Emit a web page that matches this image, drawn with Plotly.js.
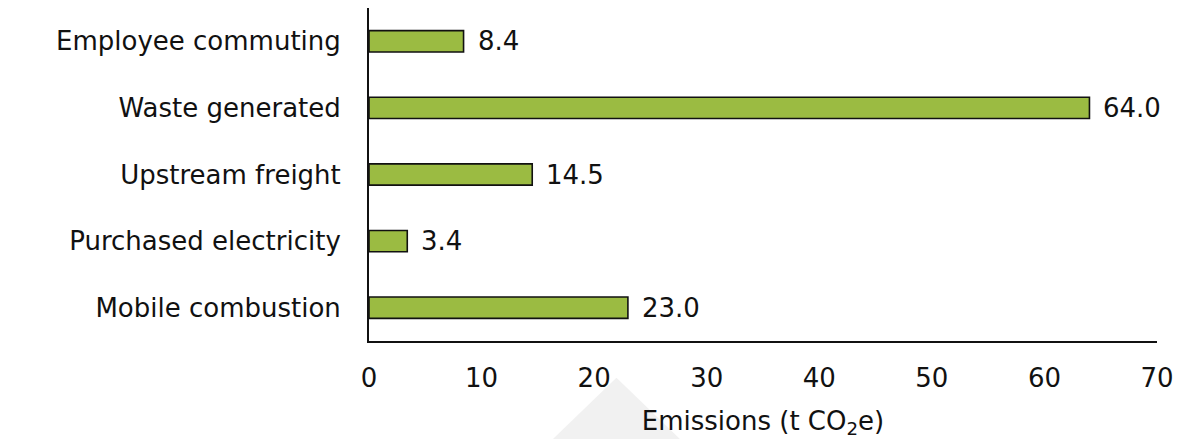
<!DOCTYPE html>
<html>
<head>
<meta charset="utf-8">
<script src="https://cdn.plot.ly/plotly-3.0.1.min.js"></script>
<style>html,body{margin:0;padding:0;background:#fff;}#chart{width:1183px;height:439px;}</style>
</head>
<body>
<div id="chart"></div>
<script>
const categories = ["Mobile combustion", "Purchased electricity", "Upstream freight", "Waste generated", "Employee commuting"];
const emissions = [23.0, 3.4, 14.5, 64.0, 8.4];
const tickValues = [0, 10, 20, 30, 40, 50, 60, 70];
const axisTitle = "Emissions (t CO<sub>2</sub>e)";

const FONT = "DejaVu Sans, sans-serif";
const SIZE = 26;

const trace = {
  type: "bar",
  orientation: "h",
  y: categories,
  x: emissions,
  marker: {color: "#9BBB42", line: {color: "#111111", width: 1.6}},
  hoverinfo: "none",
  cliponaxis: false
};

const annotations = categories.map((c, i) => ({
  x: emissions[i], y: c, xref: "x", yref: "y",
  text: emissions[i].toFixed(1), showarrow: false,
  xanchor: "left", xshift: 12,
  font: {family: FONT, size: SIZE, color: "#111111"}
}));

const layout = {
  width: 1183, height: 439,
  margin: {l: 369, r: 26, t: 8, b: 98},
  paper_bgcolor: "#ffffff", plot_bgcolor: "#ffffff",
  showlegend: false,
  bargap: 0.68,
  font: {family: FONT, size: SIZE, color: "#111111"},
  xaxis: {
    range: [0, 70], tickvals: tickValues, ticktext: tickValues.map(String),
    showgrid: false, zeroline: false,
    showline: true, linecolor: "#111111", linewidth: 2,
    ticks: "", ticklabelstandoff: 13,
    tickfont: {family: FONT, size: SIZE, color: "#111111"},
    title: {text: axisTitle, font: {family: FONT, size: SIZE, color: "#111111"}, standoff: 20}
  },
  yaxis: {
    showgrid: false, zeroline: false,
    showline: true, linecolor: "#111111", linewidth: 2,
    ticks: "", ticklabelstandoff: 21,
    tickfont: {family: FONT, size: SIZE, color: "#111111"},
    automargin: false
  },
  annotations: annotations,
  shapes: [{
    type: "path", xref: "paper", yref: "paper", layer: "below",
    path: "M 0.314 -0.11 L 0.231 -0.3 L 0.397 -0.3 Z",
    fillcolor: "#f1f1f1", line: {width: 0}
  }]
};

Plotly.newPlot("chart", [trace], layout, {displayModeBar: false, staticPlot: true});
</script>
</body>
</html>
